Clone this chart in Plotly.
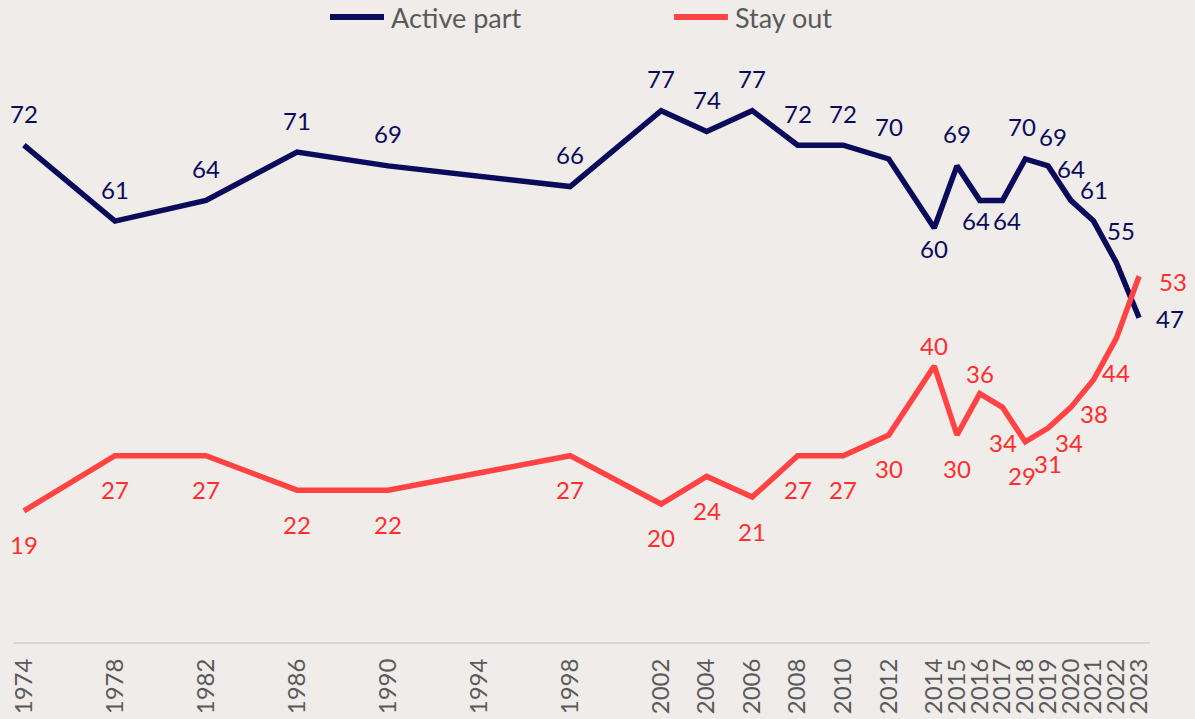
import plotly.graph_objects as go

years = [1974, 1978, 1982, 1986, 1990, 1998, 2002, 2004, 2006, 2008, 2010, 2012,
         2014, 2015, 2016, 2017, 2018, 2019, 2020, 2021, 2022, 2023]
active_part = [72, 61, 64, 71, 69, 66, 77, 74, 77, 72, 72, 70,
               60, 69, 64, 64, 70, 69, 64, 61, 55, 47]
stay_out = [19, 27, 27, 22, 22, 27, 20, 24, 21, 27, 27, 30,
            40, 30, 36, 34, 29, 31, 34, 38, 44, 53]
tick_years = [1974, 1978, 1982, 1986, 1990, 1994, 1998, 2002, 2004, 2006, 2008, 2010,
              2012, 2014, 2015, 2016, 2017, 2018, 2019, 2020, 2021, 2022, 2023]
series_names = ["Active part", "Stay out"]

NAVY = "#0b0b5b"
RED_LINE = "#ff4242"
RED_TEXT = "#ff2d2d"
GREY = "#5a5a5a"
BG = "#f0ecea"
FONT = "Lato"

# label pixel offsets (dx, dy); default navy above, red below; exceptions by year
navy_default = (0, 32)
navy_offsets = {2014: (0, -21), 2016: (-4, -20), 2017: (4, -20), 2018: (-3, 32),
                2019: (5, 29), 2022: (5, 32), 2023: (31, -1)}
red_default = (0, -34)
red_offsets = {2014: (0, 20), 2016: (0, 20), 2017: (0, -35), 2018: (-3, -34),
               2019: (0, -35), 2020: (-2, -35), 2023: (34, -5)}

fig = go.Figure()
fig.add_trace(go.Scatter(x=years, y=active_part, mode="lines", name=series_names[0],
                         line=dict(color=NAVY, width=5.5), showlegend=False))
fig.add_trace(go.Scatter(x=years, y=stay_out, mode="lines", name=series_names[1],
                         line=dict(color=RED_LINE, width=5.5), showlegend=False))

annotations = []
for yr, v in zip(years, active_part):
    dx, dy = navy_offsets.get(yr, navy_default)
    annotations.append(dict(x=yr, y=v, text=str(v), showarrow=False, xshift=dx, yshift=dy,
                            font=dict(family=FONT, size=24, color=NAVY)))
for yr, v in zip(years, stay_out):
    dx, dy = red_offsets.get(yr, red_default)
    annotations.append(dict(x=yr, y=v, text=str(v), showarrow=False, xshift=dx, yshift=dy,
                            font=dict(family=FONT, size=24, color=RED_TEXT)))

# legend (drawn in paper coordinates, centred above the plot)
LEG_Y = 0.9735
legend_items = [(series_names[0], NAVY, 0.2788, 0.3263, 0.3307),
                (series_names[1], RED_LINE, 0.5814, 0.6288, 0.6332)]
shapes = []
for name, col, x0, x1, xt in legend_items:
    shapes.append(dict(type="line", xref="paper", yref="paper", x0=x0, x1=x1,
                       y0=LEG_Y, y1=LEG_Y, line=dict(color=col, width=6)))
    annotations.append(dict(xref="paper", yref="paper", x=xt, y=LEG_Y, text=name,
                            showarrow=False, xanchor="left", yanchor="middle",
                            font=dict(family=FONT, size=27, color=GREY)))

fig.update_layout(
    width=1195, height=719,
    margin=dict(l=13, r=45, t=0, b=77),
    paper_bgcolor=BG, plot_bgcolor=BG,
    font=dict(family=FONT, size=24, color=GREY),
    showlegend=False,
    annotations=annotations,
    shapes=shapes,
    xaxis=dict(range=[1973.52, 2023.48], tickmode="array", tickvals=tick_years,
               ticktext=[str(t) for t in tick_years], tickangle=-90,
               tickfont=dict(family=FONT, size=24, color=GREY),
               showgrid=False, zeroline=False, showline=True, linecolor="#d8d8d8",
               linewidth=2, ticks="", ticklabelstandoff=5, automargin=False),
    yaxis=dict(range=[0, 93.04], visible=False, showgrid=False, zeroline=False,
               automargin=False),
)

fig.write_html("out.html", config={"displayModeBar": False},
               post_script="document.body.style.margin='0';")
